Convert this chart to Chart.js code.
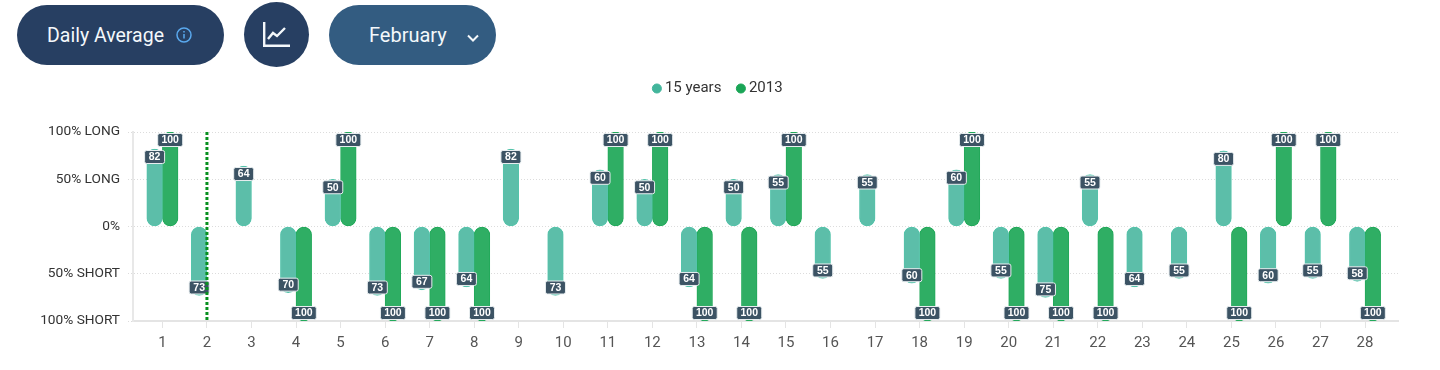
<!DOCTYPE html>
<html>
<head>
<meta charset="utf-8">
<title>Daily Average</title>
<script src="https://cdn.jsdelivr.net/npm/chart.js@4"></script>
<style>
    html, body { margin: 0; padding: 0; background: #fff; overflow: hidden; }
    body { width: 1440px; height: 370px; position: relative; font-family: Roboto, sans-serif; }
    .pill { position: absolute; color: #f4f8fb; font-size: 20px; display: flex; align-items: center; box-sizing: border-box; }
    #avg { left: 17px; top: 5px; width: 207px; height: 60px; border-radius: 30px; background: #273f62; padding-left: 30px; font-size: 19.5px; }
    #avg svg { position: absolute; left: 159px; top: 22px; }
    #icon { left: 244px; top: 2px; width: 65px; height: 65px; border-radius: 50%; background: #273f62; }
    #icon svg { position: absolute; left: 19px; top: 20px; }
    #month { left: 329px; top: 5px; width: 167px; height: 60px; border-radius: 30px; background: #335c81; padding-left: 40px; }
    #month svg { position: absolute; left: 137px; top: 29px; }
    #wrap { position: absolute; left: 0; top: 62px; width: 1435px; height: 308px; }
</style>
</head>
<body>
<div class="pill" id="avg">Daily Average
    <svg width="16" height="16" viewBox="0 0 16 16" fill="none" stroke="#5aa9ee" stroke-width="1.5"><circle cx="8" cy="8" r="7"/><path d="M8 7v4.5M8 4v1.6"/></svg>
</div>
<div class="pill" id="icon">
    <svg width="27" height="25" viewBox="0 0 27 25" fill="none" stroke="#f4f8fb" stroke-width="2.4"><path d="M1.200 0v23.800h26"/><path d="M5 17l5-6 4 3 8-8"/></svg>
</div>
<div class="pill" id="month">February
    <svg width="14" height="9" viewBox="0 0 14 9" fill="none" stroke="#f4f8fb" stroke-width="2"><path d="M2 1.500l5 5 5-5"/></svg>
</div>
<div id="wrap"><canvas id="dailyChart"></canvas></div>

<script>
    // --- Datos ---
    const days = [1, 2, 3, 4, 5, 6, 7, 8, 9, 10, 11, 12, 13, 14, 15, 16, 17, 18, 19, 20, 21, 22, 23, 24, 25, 26, 27, 28];
    const years15 = [82, -73, 64, -70, 50, -73, -67, -64, 82, -73, 60, 50, -64, 50, 55, -55, 55, -60, 60, -55, -75, 55, -64, -55, 80, -60, -55, -58];
    const y2013 = [100, null, null, -100, 100, -100, -100, -100, null, null, 100, 100, -100, -100, 100, null, null, -100, 100, -100, -100, -100, null, null, -100, 100, 100, -100];
    const yTickLabels = { '100': '100% LONG', '50': '50% LONG', '0': '0%', '-50': '50% SHORT', '-100': '100% SHORT' };
    const legendDots = ['#42b59b', '#1aa556'];
    const currentDay = 2;

    // espacio extra debajo de la leyenda
    const legendGap = {
        id: 'legendGap',
        beforeInit(chart) {
            const fit = chart.legend.fit;
            chart.legend.fit = function () {
                fit.bind(chart.legend)();
                this.height += 26;
            };
        }
    };

    // etiquetas oscuras al final de cada barra
    const barLabels = {
        id: 'barLabels',
        afterDatasetsDraw(chart) {
            const c = chart.ctx;
            c.save();
            c.font = 'bold 10.5px "Liberation Sans", Arial, sans-serif';
            c.textAlign = 'center';
            c.textBaseline = 'middle';
            chart.data.datasets.forEach((ds, i) => {
                chart.getDatasetMeta(i).data.forEach((bar, j) => {
                    const v = ds.data[j];
                    if (v === null) return;
                    const txt = String(Math.abs(v));
                    const w = txt.length > 2 ? 25 : 20;
                    const cy = bar.y + (v > 0 ? 8 : -8);
                    c.beginPath();
                    c.roundRect(bar.x - w / 2, cy - 6.5, w, 13, 2);
                    c.fillStyle = '#3c5364';
                    c.fill();
                    c.lineWidth = 1;
                    c.strokeStyle = '#e8eef0';
                    c.stroke();
                    c.fillStyle = '#fff';
                    c.fillText(txt, bar.x, cy + 0.5);
                });
            });
            c.restore();
        }
    };

    // linea punteada del dia actual
    const dayLine = {
        id: 'dayLine',
        afterDatasetsDraw(chart) {
            const c = chart.ctx, x = chart.scales.x.getPixelForValue(currentDay);
            c.save();
            c.beginPath();
            c.setLineDash([3, 2]);
            c.lineWidth = 3;
            c.strokeStyle = '#08901f';
            c.moveTo(x, chart.chartArea.top);
            c.lineTo(x, chart.chartArea.bottom);
            c.stroke();
            c.restore();
        }
    };

    const ctx = document.getElementById('dailyChart').getContext('2d');
    const dailyChart = new Chart(ctx, {
        type: 'bar',
        data: {
            labels: days,
            datasets: [{
                label: '15 years',
                data: years15,
                backgroundColor: '#5cbea9',
                borderColor: '#55c4ab',
                borderWidth: 1,
                borderRadius: 8,
                borderSkipped: false,
                barThickness: 15.6
            }, {
                label: '2013',
                data: y2013,
                backgroundColor: '#2fae64',
                borderColor: '#22a95a',
                borderWidth: 1,
                borderRadius: 8,
                borderSkipped: false,
                barThickness: 15.6
            }]
        },
        options: {
            responsive: true,
            maintainAspectRatio: false,
            animation: false,
            layout: { padding: { left: 41, right: 37, top: 0 } },
            scales: {
                x: {
                    type: 'linear',
                    offset: false,
                    min: 0.34,
                    max: 28.74,
                    afterFit: s => { s.height = 49; },
                    grid: { offset: false, drawOnChartArea: false, color: '#e4e4e4', tickLength: 7 },
                    border: { color: '#e4e4e4', width: 2 },
                    ticks: {
                        stepSize: 1,
                        includeBounds: false,
                        maxRotation: 0,
                        autoSkip: false,
                        padding: 6,
                        color: '#555',
                        font: { family: 'Roboto', size: 15 }
                    }
                },
                y: {
                    min: -100,
                    max: 100,
                    afterFit: s => { s.width = 92; },
                    grid: { color: '#dcdcdc', tickLength: 5, tickBorderDash: [1, 2] },
                    border: { color: '#e8e8e8', width: 2, dash: [1, 2] },
                    ticks: {
                        stepSize: 50,
                        padding: 8,
                        color: '#333',
                        font: { family: 'Roboto', size: 13.7 },
                        callback: v => yTickLabels[v]
                    }
                }
            },
            plugins: {
                legend: {
                    position: 'top',
                    align: 'center',
                    labels: {
                        usePointStyle: true,
                        pointStyle: 'circle',
                        boxWidth: 1,
                        boxHeight: 6.4,
                        padding: 19,
                        color: '#333',
                        font: { family: 'Roboto', size: 15 },
                        generateLabels(chart) {
                            return Chart.defaults.plugins.legend.labels.generateLabels(chart).map(item => {
                                item.fillStyle = legendDots[item.datasetIndex];
                                item.strokeStyle = legendDots[item.datasetIndex];
                                return item;
                            });
                        }
                    }
                },
                tooltip: { enabled: false }
            }
        },
        plugins: [legendGap, barLabels, dayLine]
    });
</script>
</body>
</html>
